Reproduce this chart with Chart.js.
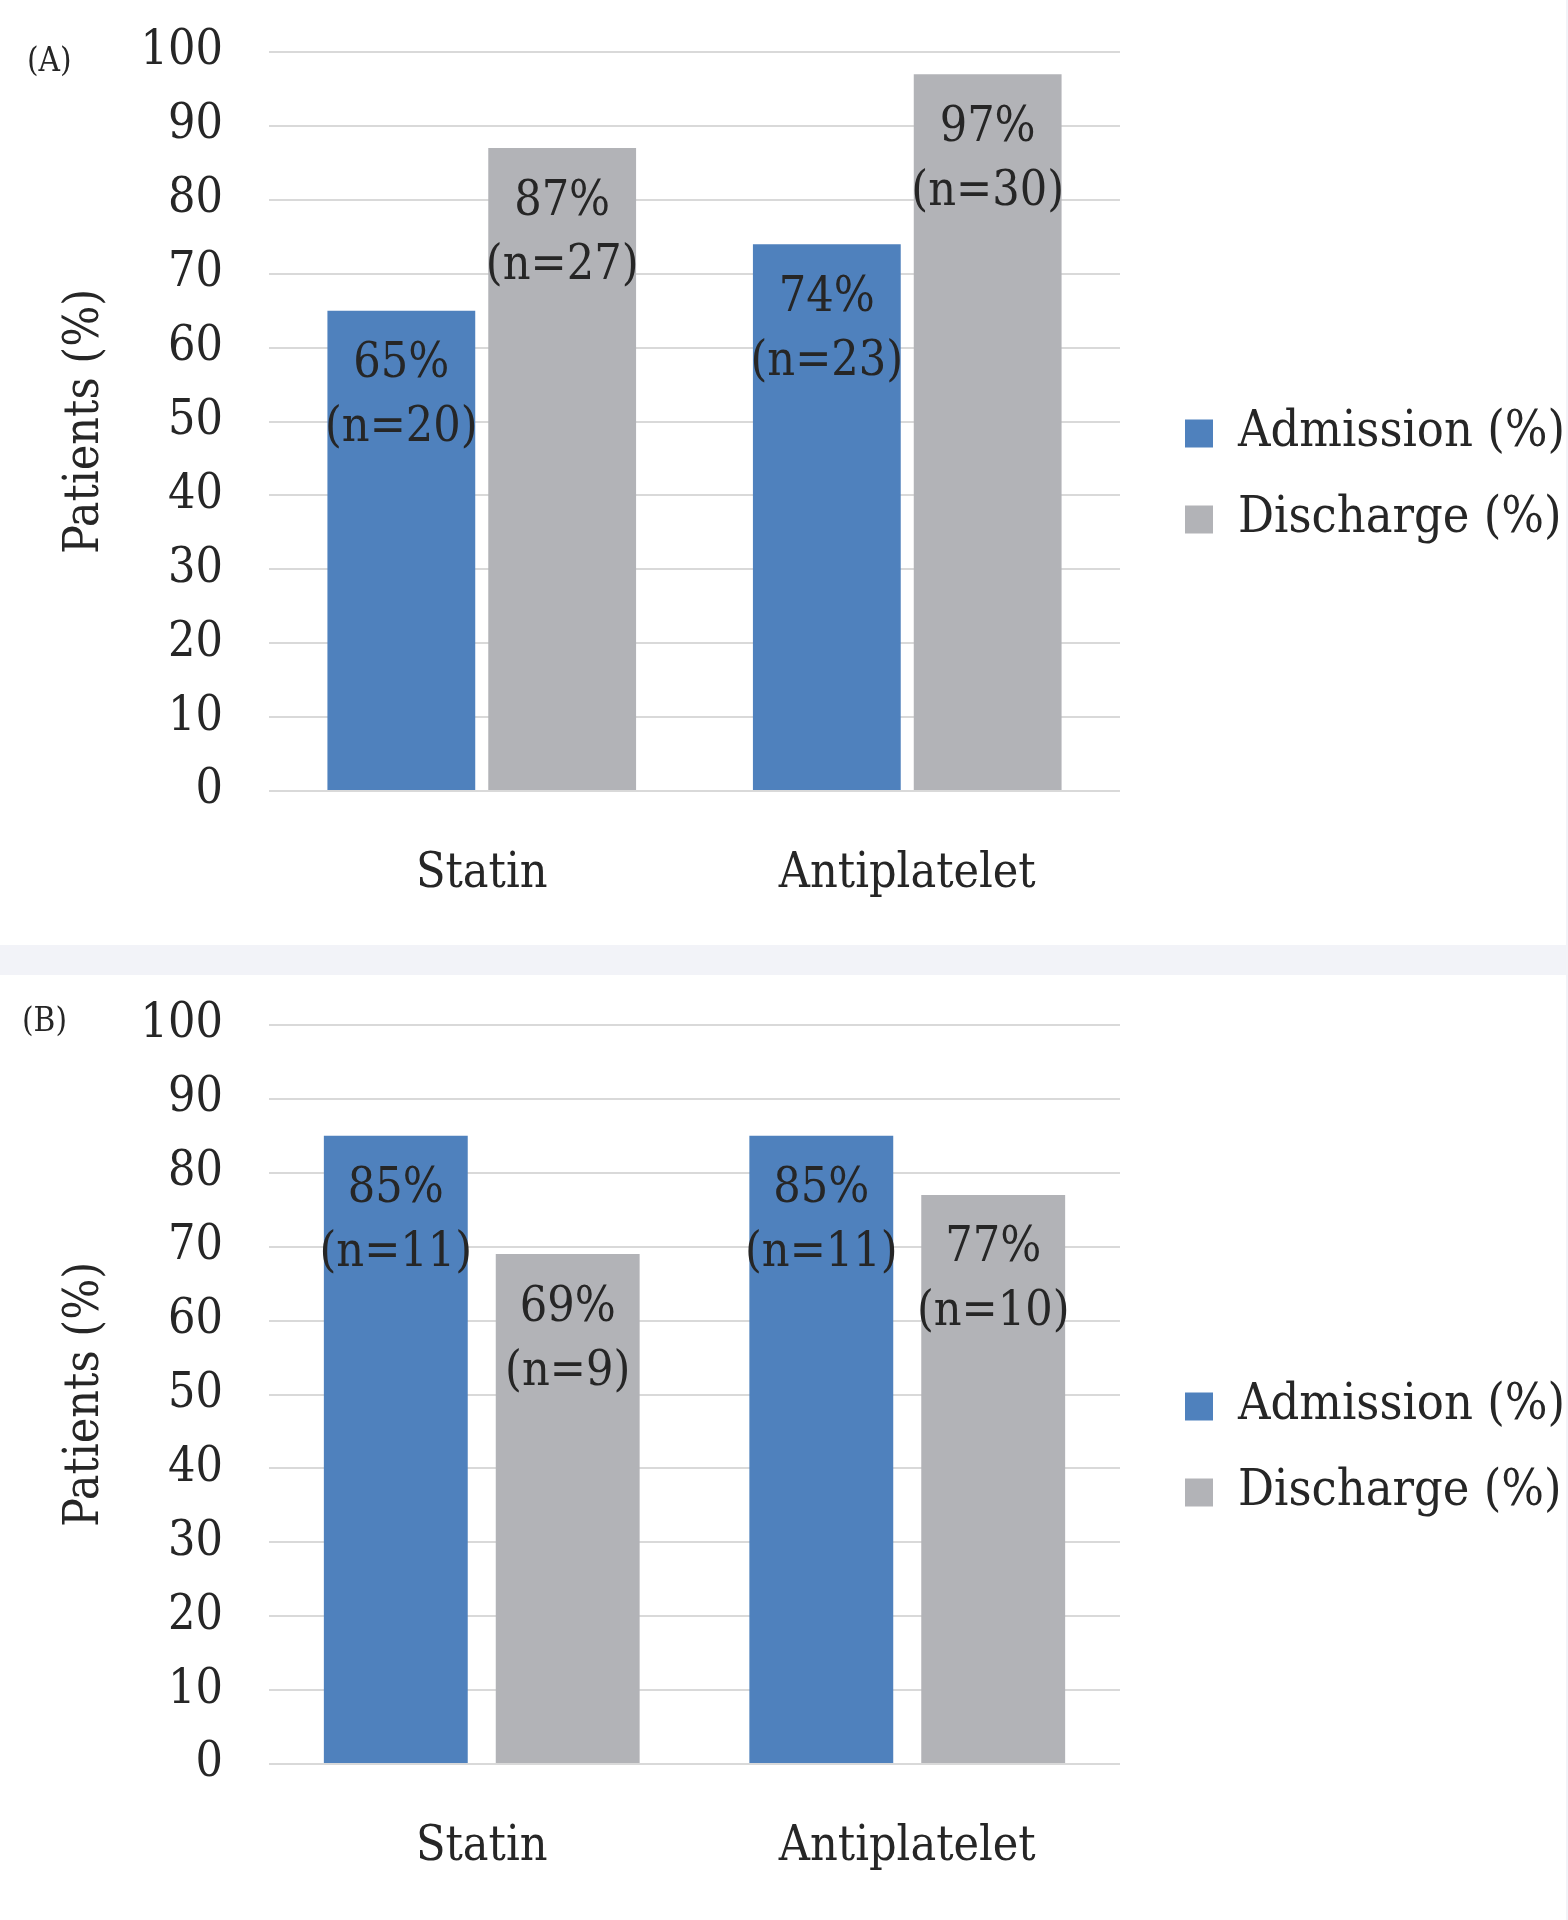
<!DOCTYPE html>
<html>
<head>
<meta charset="utf-8">
<script src="https://cdn.jsdelivr.net/npm/chart.js@4"></script>
<style>
  html, body { margin: 0; padding: 0; }
  body { width: 1568px; height: 1920px; background: #f2f3f8; position: relative; overflow: hidden; }
  .panel { position: absolute; left: 0; width: 1566px; height: 945px; background: #fff; }
  #panelA { top: 0; }
  #panelB { top: 975px; }
  .tag { position: absolute; font: 33px "DejaVu Serif Condensed", "DejaVu Serif", serif; color: #262626; line-height: 36px; }
  canvas { position: absolute; left: 0; top: 0; }
</style>
</head>
<body>
<div class="panel" id="panelA">
  <canvas id="chartA" width="1566" height="945"></canvas>
  <div class="tag" style="left:27px; top:42px;">(A)</div>
</div>
<div class="panel" id="panelB">
  <canvas id="chartB" width="1566" height="945"></canvas>
  <div class="tag" style="left:22px; top:27px;">(B)</div>
</div>
<script>
const categories = ["Statin", "Antiplatelet"];
const seriesNames = ["Admission (%)", "Discharge (%)"];

// panel A
const admissionA = [65, 74];
const dischargeA = [87, 97];
const admissionCountA = [20, 23];
const dischargeCountA = [27, 30];

// panel B
const admissionB = [85, 85];
const dischargeB = [69, 77];
const admissionCountB = [11, 11];
const dischargeCountB = [9, 10];

const yTicks = [0, 10, 20, 30, 40, 50, 60, 70, 80, 90, 100];

const FONT = '"DejaVu Serif Condensed", "DejaVu Serif", serif';
const TEXT = "#262626";
const BLUE = "#4f81bd";
const GRAY = "#b2b3b7";

// two-line labels inside the top of each bar
const barLabels = {
    id: "barLabels",
    afterDatasetsDraw(chart) {
        const ctx = chart.ctx;
        ctx.save();
        ctx.font = "48px " + FONT;
        ctx.fillStyle = TEXT;
        ctx.textAlign = "center";
        ctx.textBaseline = "middle";
        chart.data.datasets.forEach((ds, i) => {
            const meta = chart.getDatasetMeta(i);
            meta.data.forEach((bar, j) => {
                ctx.fillText(ds.data[j] + "%", bar.x, bar.y + 54);
                ctx.fillText("(n=" + ds.counts[j] + ")", bar.x, bar.y + 118);
            });
        });
        ctx.restore();
    }
};

// empty box between the plot and the legend
const legendGap = {
    id: "legendGap",
    start(chart) {
        Chart.layouts.addBox(chart, {
            position: "right",
            weight: 500,
            fullSize: false,
            options: {},
            update(maxWidth, maxHeight) {
                this.width = 29;
                this.height = maxHeight;
            },
            isHorizontal() { return false; },
            draw() {}
        });
    }
};

function makeChart(id, adm, dis, admN, disN, cat, bar, pad) {
    return new Chart(document.getElementById(id), {
        type: "bar",
        data: {
            labels: categories,
            datasets: [
                { label: seriesNames[0], data: adm, counts: admN, backgroundColor: BLUE, borderWidth: 0,
                  categoryPercentage: cat, barPercentage: bar },
                { label: seriesNames[1], data: dis, counts: disN, backgroundColor: GRAY, borderWidth: 0,
                  categoryPercentage: cat, barPercentage: bar }
            ]
        },
        options: {
            responsive: false,
            animation: false,
            layout: { padding: pad },
            plugins: {
                tooltip: { enabled: false },
                legend: {
                    position: "right",
                    maxWidth: 417,
                    labels: {
                        font: { family: FONT, size: 50 },
                        color: TEXT,
                        boxWidth: 28,
                        boxHeight: 28,
                        padding: 36
                    }
                }
            },
            scales: {
                x: {
                    grid: { display: false, drawTicks: false },
                    border: { display: false },
                    ticks: { font: { family: FONT, size: 48 }, color: TEXT, padding: 55 },
                    afterFit: (scale) => { scale.height = 110; }
                },
                y: {
                    min: 0,
                    max: 100,
                    afterBuildTicks: (scale) => { scale.ticks = yTicks.map(v => ({ value: v })); },
                    afterFit: (scale) => {
                        scale.width = 219;
                        scale.paddingTop = 0;
                        scale.paddingBottom = 0;
                    },
                    grid: { color: "#d9d9d9", lineWidth: 2, drawTicks: false },
                    border: { display: false },
                    ticks: { font: { family: FONT, size: 48 }, color: TEXT, padding: 46 },
                    title: {
                        display: true,
                        text: "Patients (%)",
                        font: { family: FONT, size: 48 },
                        color: TEXT,
                        padding: { top: 7, bottom: 26 }
                    }
                }
            }
        },
        plugins: [barLabels, legendGap]
    });
}

makeChart("chartA", admissionA, dischargeA, admissionCountA, dischargeCountA, 0.756, 0.919,
    { left: 50, top: 52, bottom: 44, right: 0 });
makeChart("chartB", admissionB, dischargeB, admissionCountB, dischargeCountB, 0.808, 0.837,
    { left: 50, top: 50, bottom: 46, right: 0 });
</script>
</body>
</html>
